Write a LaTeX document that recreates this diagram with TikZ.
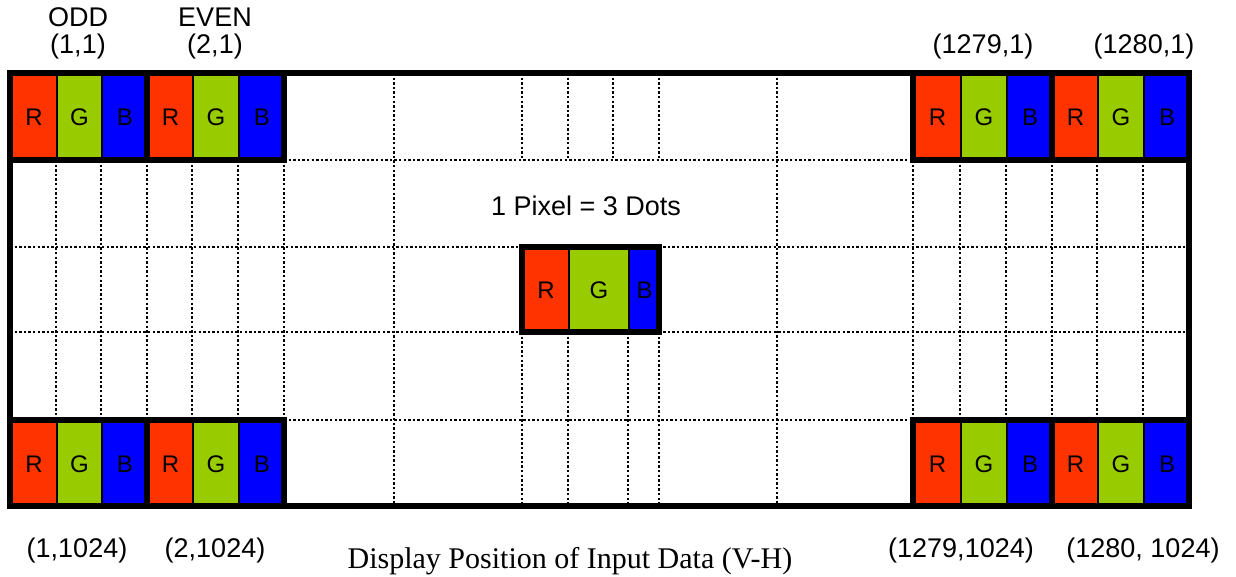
\documentclass[tikz,border=0pt]{standalone}
\usepackage{fontspec}
\setmainfont{Liberation Serif}
\newfontfamily\lblfont{Liberation Sans}
\definecolor{cR}{HTML}{FF3300}
\definecolor{cG}{HTML}{99CC00}
\definecolor{cB}{HTML}{0000FF}
\tikzset{
  frameline/.style={line width=5.5pt, line cap=rect},
  dotline/.style={line width=2.6pt, dash pattern=on 2.4pt off 2.2pt},
  cell/.style={draw=black, line width=2pt, inner sep=0pt, anchor=north west,
    font=\lblfont\fontsize{24}{27}\selectfont},
  lbl/.style={inner sep=0pt, font=\lblfont\fontsize{27}{31}\selectfont},
  caption/.style={inner sep=0pt, font=\fontsize{30}{34}\selectfont},
}
\newcommand\rgbpix[7]{%
  \node[cell, fill=cR, minimum width={#3-#2}, minimum height={#7-#6}] (#1R) at (#2,#6) {R};
  \node[cell, fill=cG, minimum width={#4-#3}, minimum height={#7-#6}] (#1G) at (#3,#6) {G};
  \node[cell, fill=cB, minimum width={#5-#4}, minimum height={#7-#6}] (#1B) at (#4,#6) {B};
  \draw[frameline] (#2,#6) rectangle (#5,#7);
}
\begin{document}
\begin{tikzpicture}[x=1pt,y=-1pt]
\useasboundingbox (0,0) rectangle (1236,577);
% dotted grid
\draw[dotline] (284,160) -- (913,160);
\draw[dotline] (10,247) -- (1189,247);
\draw[dotline] (10,332) -- (1189,332);
\draw[dotline] (284,420) -- (913,420);
\foreach \x in {56,101,147,192,238,284,913,960,1006,1052,1097,1143}
  \draw[dotline] (\x,160) -- (\x,420);
\foreach \x in {394,777}
  \draw[dotline] (\x,73) -- (\x,506);
\foreach \x in {522,568,613,659}
  \draw[dotline] (\x,73) -- (\x,160);
\foreach \x in {522,568,628,659}
  \draw[dotline] (\x,332) -- (\x,506);
% outer frame
\draw[frameline] (10,73) rectangle (1189,506);
% pixel blocks
\rgbpix{tlA}{10}{56}{101}{147}{73}{160}
\rgbpix{tlB}{147}{192}{238}{284}{73}{160}
\rgbpix{trA}{913}{960}{1006}{1052}{73}{160}
\rgbpix{trB}{1052}{1097}{1143}{1189}{73}{160}
\rgbpix{blA}{10}{56}{101}{147}{420}{506}
\rgbpix{blB}{147}{192}{238}{284}{420}{506}
\rgbpix{brA}{913}{960}{1006}{1052}{420}{506}
\rgbpix{brB}{1052}{1097}{1143}{1189}{420}{506}
\rgbpix{mid}{522}{568}{628}{659}{247}{332}
% labels
\node[lbl] (odd) at (78,17) {ODD};
\node[lbl] (even) at (215,17) {EVEN};
\node[lbl] (p11) at (78,47) {(1,1)};
\node[lbl] (p21) at (215,47) {(2,1)};
\node[lbl] (p12791) at (983,47) {(1279,1)};
\node[lbl] (p12801) at (1144,47) {(1280,1)};
\node[lbl] (p11024) at (77,551) {(1,1024)};
\node[lbl] (p21024) at (215,551) {(2,1024)};
\node[lbl] (p12791024) at (961,551) {(1279,1024)};
\node[lbl] (p12801024) at (1143,551) {(1280, 1024)};
\node[lbl] (dots) at (586,206) {1 Pixel = 3 Dots};
\node[caption] (cap) at (570,561) {Display Position of Input Data (V-H)};
\end{tikzpicture}
\end{document}
